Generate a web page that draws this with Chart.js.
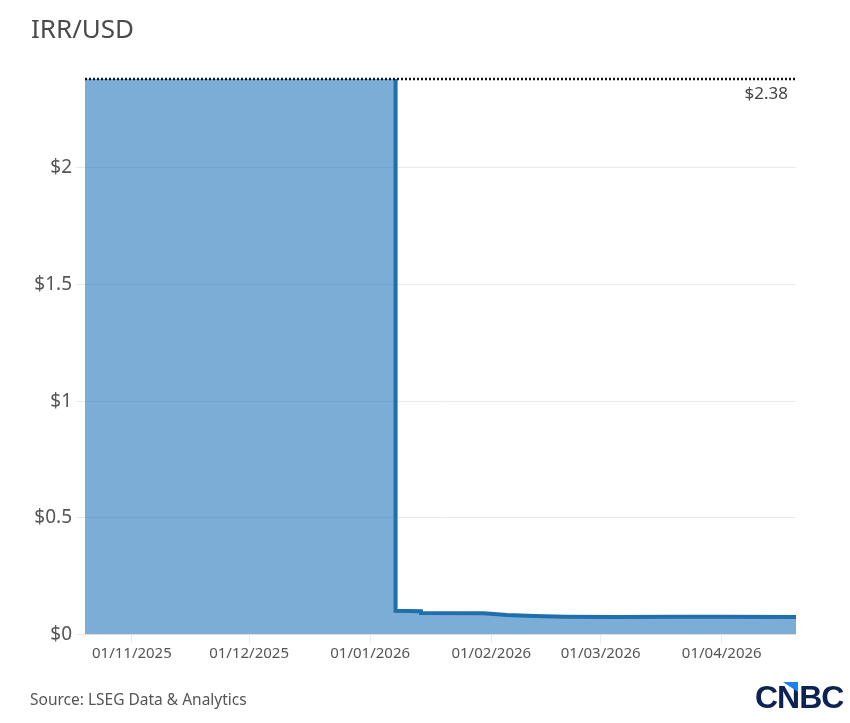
<!doctype html>
<html lang="en">
<head>
  <meta charset="utf-8">
  <title>IRR/USD</title>
  <style>
    * {
      margin: 0;
      padding: 0;
    }

    body {
      width: 850px;
      height: 723px;
      background: #fff;
      overflow: hidden;
      position: relative;
      font-family: "Noto Sans", sans-serif;
    }

    #myChart {
      position: absolute;
      left: 0;
      top: 0;
    }

    .subtitle {
      position: absolute;
      left: 31px;
      top: 11px;
      font-size: 26px;
      line-height: 35px;
      color: #4a4a4a;
    }

    .source {
      position: absolute;
      left: 30px;
      top: 689px;
      font-size: 15.5px;
      line-height: 21px;
      color: #555;
    }

    .logo {
      position: absolute;
      left: 755px;
      top: 677px;
      font-family: "Liberation Sans", sans-serif;
      font-size: 32px;
      line-height: 40px;
      font-weight: bold;
      letter-spacing: -1px;
      color: #0c2352;
    }

    .logoMark {
      position: absolute;
      left: 783px;
      top: 682px;
      width: 15px;
      height: 10px;
      background: #1a82f0;
      clip-path: polygon(0 0, 100% 0, 100% 100%);
    }
  </style>
</head>
<body>
<canvas id="myChart" width="850" height="723"></canvas>
<div class="subtitle">IRR/USD</div>
<div class="source">Source: LSEG Data &amp; Analytics</div>
<div class="logo">CNBC</div>
<div class="logoMark"></div>
<script src="https://cdn.jsdelivr.net/npm/chart.js"></script>
<script>
  const dates = ['2025-10-20', '2026-01-07T12:00', '2026-01-07T12:00', '2026-01-14', '2026-01-14', '2026-01-30', '2026-02-05', '2026-02-12', '2026-02-20', '2026-03-05', '2026-03-20', '2026-04-01', '2026-04-20'];
  const rates = [2.38, 2.38, 0.102, 0.1, 0.092, 0.091, 0.084, 0.079, 0.076, 0.075, 0.076, 0.076, 0.075];

  const refDates = ['2025-10-20', '2026-04-20'];
  const refValues = [2.38, 2.38];
  const refLabel = '$2.38';

  const xTickDates = ['2025-11-01', '2025-12-01', '2026-01-01', '2026-02-01', '2026-03-01', '2026-04-01'];
  const xTickLabels = ['01/11/2025', '01/12/2025', '01/01/2026', '01/02/2026', '01/03/2026', '01/04/2026'];
  const yTicks = [0, 0.5, 1, 1.5, 2];

  function toDays(d) {
    return Date.parse(d.length > 10 ? d + 'Z' : d) / 86400000;
  }

  // no date adapter here, so x is a linear axis in days
  const xTicks = xTickDates.map(toDays);
  const points = dates.map((d, i) => ({ x: toDays(d), y: rates[i] }));

  const refLabelPlugin = {
    id: 'refLabel',
    afterDatasetsDraw(chart) {
      const ctx = chart.ctx;
      ctx.save();
      ctx.font = '17px "Noto Sans", sans-serif';
      ctx.fillStyle = '#444';
      ctx.textAlign = 'right';
      ctx.textBaseline = 'middle';
      ctx.fillText(refLabel, chart.scales.x.right - 8, chart.scales.y.getPixelForValue(refValues[0]) + 15);
      ctx.restore();
    }
  };

  new Chart(document.getElementById('myChart'), {
    type: 'line',
    data: {
      datasets: [{
        label: 'IRR/USD area',
        data: points,
        borderWidth: 0,
        borderColor: 'transparent',
        backgroundColor: 'rgba(30, 115, 185, 0.59)',
        fill: 'origin',
        pointRadius: 0,
        tension: 0,
        order: 3
      }, {
        // the flat top stays unstroked, only the dotted line shows there
        label: 'IRR/USD',
        data: points.slice(1),
        borderColor: '#1f6fad',
        borderWidth: 4,
        fill: false,
        pointRadius: 0,
        tension: 0,
        clip: false,
        order: 2
      }, {
        label: 'Reference',
        data: refDates.map((d, i) => ({ x: toDays(d), y: refValues[i] })),
        borderColor: '#111',
        borderWidth: 2.5,
        borderDash: [2, 2],
        pointRadius: 0,
        fill: false,
        clip: false,
        order: 1
      }]
    },
    plugins: [refLabelPlugin],
    options: {
      responsive: false,
      animation: false,
      layout: {
        padding: { left: 0, right: 54, top: 79, bottom: 0 }
      },
      plugins: {
        legend: { display: false },
        tooltip: { enabled: false }
      },
      scales: {
        x: {
          type: 'linear',
          min: toDays(refDates[0]),
          max: toDays(refDates[1]),
          afterBuildTicks(scale) {
            scale.ticks = xTicks.map(v => ({ value: v }));
          },
          afterFit(scale) {
            scale.height = 88.5;
          },
          border: { display: false },
          grid: {
            drawOnChartArea: false,
            tickLength: 9,
            color: '#ececec'
          },
          ticks: {
            autoSkip: false,
            maxRotation: 0,
            padding: 1,
            color: '#555',
            font: { family: '"Noto Sans", sans-serif', size: 15 },
            callback(value) {
              return xTickLabels[xTicks.indexOf(value)];
            }
          }
        },
        y: {
          min: 0,
          max: refValues[0],
          afterBuildTicks(scale) {
            scale.ticks = yTicks.map(v => ({ value: v }));
          },
          afterFit(scale) {
            scale.width = 85;
          },
          border: { display: false },
          grid: {
            tickLength: 9,
            color: '#e9e9e9'
          },
          ticks: {
            padding: 4,
            color: '#555',
            font: { family: '"Noto Sans", sans-serif', size: 19 },
            callback(value) {
              return '$' + value;
            }
          }
        }
      }
    }
  });
</script>
</body>
</html>
